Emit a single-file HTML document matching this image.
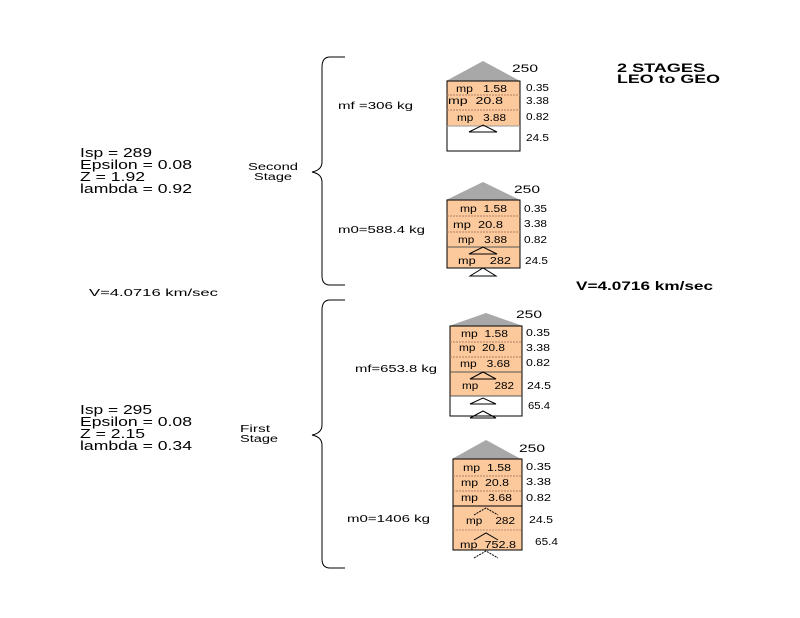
<!DOCTYPE html>
<html><head><meta charset="utf-8"><style>
html,body{margin:0;padding:0;background:#fff;}
svg{display:block;font-family:"Liberation Sans",Arial,sans-serif;}
</style></head><body>
<svg width="800" height="618" viewBox="0 0 800 618" xmlns="http://www.w3.org/2000/svg">
<g fill="#000" font-size="13" lengthAdjust="spacingAndGlyphs">
<text x="80" y="157" textLength="72" lengthAdjust="spacingAndGlyphs">Isp = 289</text>
<text x="80" y="169" textLength="112" lengthAdjust="spacingAndGlyphs">Epsilon = 0.08</text>
<text x="80" y="181" textLength="65" lengthAdjust="spacingAndGlyphs">Z = 1.92</text>
<text x="80" y="193" textLength="112" lengthAdjust="spacingAndGlyphs">lambda = 0.92</text>
<text x="248" y="170" font-size="10" textLength="50" lengthAdjust="spacingAndGlyphs">Second</text>
<text x="254" y="180" font-size="10" textLength="38" lengthAdjust="spacingAndGlyphs">Stage</text>
<text x="89" y="296" font-size="10" textLength="129" lengthAdjust="spacingAndGlyphs">V=4.0716 km/sec</text>
<text x="80" y="414" textLength="72" lengthAdjust="spacingAndGlyphs">Isp = 295</text>
<text x="80" y="426" textLength="112" lengthAdjust="spacingAndGlyphs">Epsilon = 0.08</text>
<text x="80" y="438" textLength="65" lengthAdjust="spacingAndGlyphs">Z = 2.15</text>
<text x="80" y="450" textLength="112" lengthAdjust="spacingAndGlyphs">lambda = 0.34</text>
<text x="240" y="432" font-size="10" textLength="30" lengthAdjust="spacingAndGlyphs">First</text>
<text x="240" y="442" font-size="10" textLength="38" lengthAdjust="spacingAndGlyphs">Stage</text>
<text x="617" y="72" font-weight="bold" font-size="12" textLength="88" lengthAdjust="spacingAndGlyphs">2 STAGES</text>
<text x="617" y="83" font-weight="bold" font-size="12" textLength="103" lengthAdjust="spacingAndGlyphs">LEO to GEO</text>
<text x="576" y="290" font-weight="bold" font-size="12" textLength="137" lengthAdjust="spacingAndGlyphs">V=4.0716 km/sec</text>
<text x="338" y="109" font-size="10" textLength="75" lengthAdjust="spacingAndGlyphs">mf =306 kg</text>
<text x="338" y="233" font-size="10" textLength="87" lengthAdjust="spacingAndGlyphs">m0=588.4 kg</text>
<text x="355" y="372" font-size="10" textLength="82" lengthAdjust="spacingAndGlyphs">mf=653.8 kg</text>
<text x="347" y="522" font-size="10" textLength="83" lengthAdjust="spacingAndGlyphs">m0=1406 kg</text>
</g>
<g fill="none" stroke="#000" stroke-width="1">
<path d="M345,57 H330 Q322,57 322,67 V162 Q322,170 312,172 Q322,174 322,182 V276 Q322,285 330,285 H345"/>
<path d="M345,300 H330 Q322,300 322,310 V425 Q322,433 312,435 Q322,437 322,445 V559 Q322,568 330,568 H345"/>
</g>
<!-- Rocket 1 -->
<g font-size="10" fill="#000">
<polygon points="446,81 483,61 520,81" fill="#a8a8a8"/>
<rect x="447" y="81" width="73" height="45" fill="#fbc99c"/>
<rect x="447" y="81" width="73" height="70" fill="none" stroke="#000"/>
<line x1="447" y1="95" x2="520" y2="95" stroke="#b08060" stroke-dasharray="2,1"/>
<line x1="447" y1="110" x2="520" y2="110" stroke="#b08060" stroke-dasharray="2,1"/>
<line x1="447" y1="126" x2="520" y2="126" stroke="#999"/>
<polygon points="469,132 483,125 497,132" fill="none" stroke="#000"/>
<text x="456" y="92" textLength="51" lengthAdjust="spacingAndGlyphs">mp&#160;&#160; 1.58</text>
<text x="448" y="104" textLength="55" lengthAdjust="spacingAndGlyphs">mp&#160; 20.8</text>
<text x="457" y="121" textLength="49" lengthAdjust="spacingAndGlyphs">mp&#160;&#160; 3.88</text>
<text x="512" y="72" font-size="11" textLength="26" lengthAdjust="spacingAndGlyphs">250</text>
<text x="526" y="91" textLength="23" lengthAdjust="spacingAndGlyphs">0.35</text><text x="526" y="104" textLength="23" lengthAdjust="spacingAndGlyphs">3.38</text><text x="526" y="120" textLength="23" lengthAdjust="spacingAndGlyphs">0.82</text><text x="526" y="141" textLength="23" lengthAdjust="spacingAndGlyphs">24.5</text>
</g>
<!-- Rocket 2 -->
<g font-size="10" fill="#000">
<polygon points="446,200 483,182 520,200" fill="#a8a8a8"/>
<rect x="447" y="200" width="73" height="68" fill="#fbc99c" stroke="#000"/>
<line x1="447" y1="216" x2="520" y2="216" stroke="#b08060" stroke-dasharray="2,1"/>
<line x1="447" y1="232" x2="520" y2="232" stroke="#b08060" stroke-dasharray="2,1"/>
<line x1="447" y1="247" x2="520" y2="247" stroke="#555"/>
<polygon points="469,254 483,247 497,254" fill="none" stroke="#000"/>
<polygon points="470,276 483,268 496,276" fill="none" stroke="#000"/>
<text x="460" y="212" textLength="47" lengthAdjust="spacingAndGlyphs">mp&#160; 1.58</text>
<text x="453" y="228" textLength="50" lengthAdjust="spacingAndGlyphs">mp&#160; 20.8</text>
<text x="458" y="243" textLength="49" lengthAdjust="spacingAndGlyphs">mp&#160;&#160; 3.88</text>
<text x="458" y="264" textLength="53" lengthAdjust="spacingAndGlyphs">mp&#160;&#160;&#160; 282</text>
<text x="514" y="193" font-size="11" textLength="26" lengthAdjust="spacingAndGlyphs">250</text>
<text x="524" y="212" textLength="23" lengthAdjust="spacingAndGlyphs">0.35</text><text x="524" y="227" textLength="23" lengthAdjust="spacingAndGlyphs">3.38</text><text x="524" y="243" textLength="23" lengthAdjust="spacingAndGlyphs">0.82</text><text x="525" y="264" textLength="23" lengthAdjust="spacingAndGlyphs">24.5</text>
</g>
<!-- Rocket 3 -->
<g font-size="10" fill="#000">
<polygon points="449,326 486,313 523,326" fill="#a8a8a8"/>
<rect x="450" y="326" width="72" height="70" fill="#fbc99c"/>
<rect x="450" y="326" width="72" height="90" fill="none" stroke="#000"/>
<line x1="450" y1="342" x2="522" y2="342" stroke="#b08060" stroke-dasharray="2,1"/>
<line x1="450" y1="357" x2="522" y2="357" stroke="#b08060" stroke-dasharray="2,1"/>
<line x1="450" y1="372" x2="522" y2="372" stroke="#555"/>
<line x1="450" y1="396" x2="522" y2="396" stroke="#555"/>
<polygon points="470,379 483,372 496,379" fill="none" stroke="#000"/>
<polygon points="470,404 483,398 496,404" fill="none" stroke="#000"/>
<polygon points="470,418 483,411 496,418" fill="none" stroke="#000"/>
<text x="461" y="337" textLength="47" lengthAdjust="spacingAndGlyphs">mp&#160; 1.58</text>
<text x="459" y="351" textLength="46" lengthAdjust="spacingAndGlyphs">mp&#160; 20.8</text>
<text x="460" y="367" textLength="50" lengthAdjust="spacingAndGlyphs">mp&#160;&#160; 3.68</text>
<text x="462" y="389" textLength="52" lengthAdjust="spacingAndGlyphs">mp&#160;&#160;&#160;&#160; 282</text>
<text x="516" y="318" font-size="11" textLength="26" lengthAdjust="spacingAndGlyphs">250</text>
<text x="526" y="336" textLength="24" lengthAdjust="spacingAndGlyphs">0.35</text><text x="526" y="351" textLength="24" lengthAdjust="spacingAndGlyphs">3.38</text><text x="526" y="366" textLength="24" lengthAdjust="spacingAndGlyphs">0.82</text><text x="527" y="389" textLength="24" lengthAdjust="spacingAndGlyphs">24.5</text><text x="528" y="409" textLength="22" lengthAdjust="spacingAndGlyphs">65.4</text>
</g>
<!-- Rocket 4 -->
<g font-size="10" fill="#000">
<polygon points="452,459 486,440 521,459" fill="#a8a8a8"/>
<rect x="453" y="459" width="69" height="91" fill="#fbc99c" stroke="#000"/>
<line x1="453" y1="476" x2="522" y2="476" stroke="#b08060" stroke-dasharray="2,1"/>
<line x1="453" y1="491" x2="522" y2="491" stroke="#b08060" stroke-dasharray="2,1"/>
<line x1="453" y1="506" x2="522" y2="506" stroke="#000"/>
<line x1="453" y1="530" x2="522" y2="530" stroke="#c09070" stroke-dasharray="2,1"/>
<polyline points="474,515 486,508 498,515" fill="none" stroke="#000" stroke-dasharray="2,1"/>
<polyline points="474,540 486,533 498,540" fill="none" stroke="#000"/>
<polyline points="474,558 486,551 498,558" fill="none" stroke="#000" stroke-dasharray="2,1"/>
<text x="463" y="471" textLength="48" lengthAdjust="spacingAndGlyphs">mp&#160; 1.58</text>
<text x="461" y="486" textLength="48" lengthAdjust="spacingAndGlyphs">mp&#160; 20.8</text>
<text x="461" y="501" textLength="51" lengthAdjust="spacingAndGlyphs">mp&#160;&#160; 3.68</text>
<text x="466" y="524" textLength="49" lengthAdjust="spacingAndGlyphs">mp&#160;&#160;&#160; 282</text>
<text x="460" y="548" textLength="56" lengthAdjust="spacingAndGlyphs">mp&#160; 752.8</text>
<text x="519" y="452" font-size="11" textLength="26" lengthAdjust="spacingAndGlyphs">250</text>
<text x="526" y="470" textLength="25" lengthAdjust="spacingAndGlyphs">0.35</text><text x="526" y="485" textLength="25" lengthAdjust="spacingAndGlyphs">3.38</text><text x="526" y="501" textLength="25" lengthAdjust="spacingAndGlyphs">0.82</text><text x="529" y="523" textLength="24" lengthAdjust="spacingAndGlyphs">24.5</text><text x="535" y="545" textLength="23" lengthAdjust="spacingAndGlyphs">65.4</text>
</g>
</svg>
</body></html>
